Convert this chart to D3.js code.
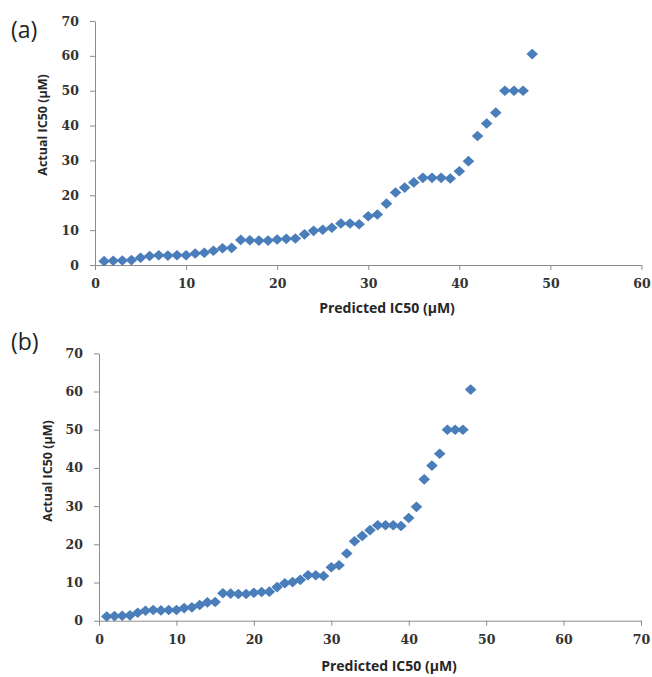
<!DOCTYPE html>
<html>
<head>
<meta charset="utf-8">
<script src="https://cdn.jsdelivr.net/npm/d3@7"></script>
<style>
  body { margin: 0; background: #fff; }
  svg { display: block; }
</style>
</head>
<body>
<script>
"use strict";

// data (same series in both panels)
const predicted = [1, 2, 3, 4, 5, 6, 7, 8, 9, 10, 11, 12, 13, 14, 15, 16, 17, 18, 19, 20, 21, 22, 23, 24,
  25, 26, 27, 28, 29, 30, 31, 32, 33, 34, 35, 36, 37, 38, 39, 40, 41, 42, 43, 44, 45, 46, 47, 48];
const actual = [1.1, 1.2, 1.3, 1.4, 2.1, 2.6, 2.8, 2.7, 2.8, 2.8, 3.3, 3.5, 4.1, 4.8, 4.9, 7.2, 7.1, 7.0, 7.0, 7.3, 7.5, 7.6, 8.8, 9.8,
  10.1, 10.7, 11.9, 11.9, 11.7, 14.0, 14.5, 17.6, 20.8, 22.2, 23.7, 25.0, 25.0, 25.0, 24.8, 26.9, 29.8, 37.0, 40.6, 43.7, 50.0, 50.0, 50.0, 60.5];
const panelLabels = ["(a)", "(b)"];
const xMaxes = [60, 70];
const yTicks = [0, 10, 20, 30, 40, 50, 60, 70];
const xTitle = "Predicted IC50 (\u00b5M)";
const yTitle = "Actual IC50 (\u00b5M)";

const W = 652, H = 677;
const svg = d3.select("body").append("svg").attr("width", W).attr("height", H);

// panel layout in pixels
const panels = [
  { left: 95, right: 641.5, top: 21, bottom: 265, labelY: 38, xTitleX: 387, xTitleY: 313, yTitleX: 47, yTitleY: 125 },
  { left: 99, right: 641, top: 353.3, bottom: 620.7, labelY: 350, xTitleX: 389, xTitleY: 671, yTitleX: 52, yTitleY: 471 }
];

const markerColor = "#4a7ebb";
const axisColor = "#8c8c8c";
const diamond = "M0,-5.3L5.8,0L0,5.3L-5.8,0Z";

panels.forEach(function(p, i) {
  const x = d3.scaleLinear().domain([0, xMaxes[i]]).range([p.left, p.right]);
  const y = d3.scaleLinear().domain([0, 70]).range([p.bottom, p.top]);
  const g = svg.append("g");

  const xAxis = g.append("g")
    .attr("transform", "translate(0," + p.bottom + ")")
    .call(d3.axisBottom(x).ticks(xMaxes[i] / 10).tickSize(5).tickSizeOuter(0).tickPadding(9));
  const yAxis = g.append("g")
    .attr("transform", "translate(" + p.left + ",0)")
    .call(d3.axisLeft(y).tickValues(yTicks).tickSize(5).tickSizeOuter(0).tickPadding(11));

  [xAxis, yAxis].forEach(function(a) {
    a.select(".domain").attr("stroke", axisColor);
    a.selectAll(".tick line").attr("stroke", axisColor);
    a.selectAll(".tick text")
      .attr("fill", "#333")
      .style("font-family", "'DejaVu Serif', serif")
      .style("font-weight", "bold")
      .style("font-size", "12.5px");
  });

  g.append("g").selectAll("path")
    .data(predicted)
    .join("path")
    .attr("d", diamond)
    .attr("transform", function(d, k) { return "translate(" + x(d) + "," + y(actual[k]) + ")"; })
    .attr("fill", markerColor);

  g.append("text")
    .attr("x", p.xTitleX).attr("y", p.xTitleY)
    .attr("text-anchor", "middle")
    .style("font-family", "'Open Sans', sans-serif")
    .style("font-weight", "bold")
    .style("font-size", "14px")
    .attr("fill", "#262626")
    .text(xTitle);

  g.append("text")
    .attr("transform", "translate(" + p.yTitleX + "," + p.yTitleY + ") rotate(-90)")
    .attr("text-anchor", "middle")
    .style("font-family", "'Open Sans', sans-serif")
    .style("font-weight", "bold")
    .style("font-size", "12.5px")
    .attr("fill", "#262626")
    .text(yTitle);

  g.append("text")
    .attr("x", 11).attr("y", p.labelY)
    .style("font-family", "'Open Sans', sans-serif")
    .style("font-size", "23px")
    .attr("fill", "#222")
    .text(panelLabels[i]);
});
</script>
</body>
</html>
